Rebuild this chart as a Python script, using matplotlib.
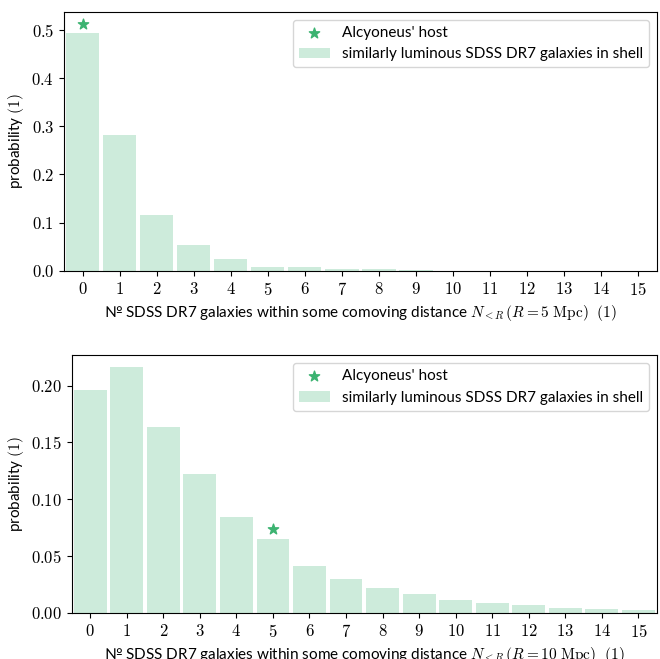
import matplotlib
matplotlib.use("Agg")
import matplotlib.pyplot as plt
from matplotlib.ticker import FuncFormatter

plt.rcParams["mathtext.fontset"] = "cm"
plt.rcParams["font.family"] = ["Lato", "DejaVu Sans"]
plt.rcParams["font.size"] = 11

counts = list(range(16))

# probability of N_<R for similarly luminous galaxies, R = 5 Mpc and R = 10 Mpc
prob_5mpc = [0.494, 0.282, 0.116, 0.054, 0.025, 0.0077, 0.0077, 0.0035,
             0.0035, 0.0008, 0.0005, 0.0004, 0.0003, 0.0003, 0.0002, 0.0002]
prob_10mpc = [0.196, 0.216, 0.164, 0.122, 0.084, 0.065, 0.041, 0.030,
              0.0215, 0.017, 0.0117, 0.009, 0.0065, 0.0047, 0.0038, 0.0022]

# Alcyoneus' host: (N, marker height)
host_5mpc = (0, 0.512)
host_10mpc = (5, 0.074)

radii = ["5", "10"]

bar_color = "#cdebdb"
star_color = "mediumseagreen"

fig = plt.figure(figsize=(6.6, 6.59), dpi=100)
ax_top = fig.add_axes([0.097, 0.589, 0.898, 0.393])
ax_bot = fig.add_axes([0.109, 0.070, 0.886, 0.391])

panels = [
    (ax_top, prob_5mpc, host_5mpc, radii[0], "$%.1f$"),
    (ax_bot, prob_10mpc, host_10mpc, radii[1], "$%.2f$"),
]

for ax, probs, host, r, yfmt in panels:
    ax.scatter([host[0]], [host[1]], marker="*", s=60, color=star_color,
               label="Alcyoneus' host", zorder=3)
    ax.bar(counts, probs, width=0.9, color=bar_color,
           label="similarly luminous SDSS DR7 galaxies in shell")
    ax.set_xlim(-0.5, 15.5)
    ax.set_xticks(counts)
    ax.set_xticklabels([f"${c}$" for c in counts])
    ax.yaxis.set_major_formatter(FuncFormatter(lambda v, p, f=yfmt: f % v))
    ax.tick_params(labelsize=12)
    ax.set_ylabel("probability $(1)$")
    ax.set_xlabel("№ SDSS DR7 galaxies within some comoving distance "
                  r"$N_{<R}\,(R = " + r + r"\ \mathrm{Mpc})\ \ (1)$")
    ax.legend(loc="upper right")

fig.savefig("out.png", dpi=100)
